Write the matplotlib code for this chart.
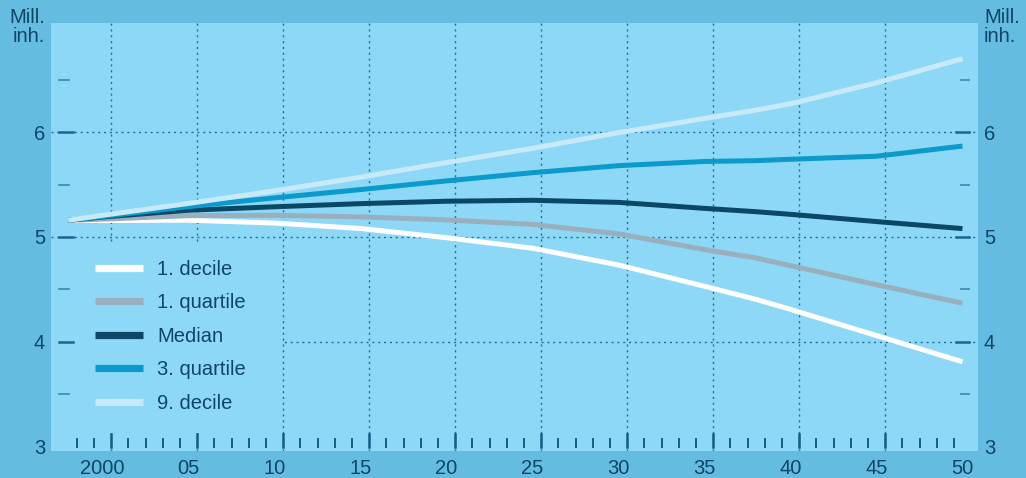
import matplotlib
matplotlib.use("Agg")
from matplotlib import pyplot as plt
from matplotlib.lines import Line2D
from matplotlib.patches import Rectangle
import matplotlib.transforms as mtransforms

# data (millions of inhabitants)
years = [1998, 2000, 2005, 2010, 2015, 2020, 2025, 2030, 2035, 2038, 2040, 2045, 2050]
decile_1 = [5.16, 5.157, 5.16, 5.133, 5.081, 4.993, 4.893, 4.733, 4.53, 4.405, 4.31, 4.06, 3.81]
quartile_1 = [5.16, 5.17, 5.203, 5.207, 5.192, 5.163, 5.12, 5.03, 4.88, 4.80, 4.727, 4.545, 4.368]
median = [5.16, 5.19, 5.255, 5.288, 5.318, 5.341, 5.35, 5.33, 5.273, 5.241, 5.216, 5.147, 5.08]
quartile_3 = [5.16, 5.195, 5.29, 5.373, 5.452, 5.535, 5.613, 5.68, 5.72, 5.728, 5.741, 5.77, 5.867]
decile_9 = [5.16, 5.207, 5.32, 5.44, 5.57, 5.71, 5.845, 5.995, 6.13, 6.21, 6.27, 6.47, 6.70]

series_names = ["1. decile", "1. quartile", "Median", "3. quartile", "9. decile"]
x_labels = ["2000", "05", "10", "15", "20", "25", "30", "35", "40", "45", "50"]
label_years = [2000, 2005, 2010, 2015, 2020, 2025, 2030, 2035, 2040, 2045, 2050]
y_labels = [3, 4, 5, 6]
y_major = [4, 5, 6]
y_minor = [3.5, 4.5, 5.5, 6.5]

outer_bg = "#64BDE0"
inner_bg = "#8DD8F6"
text_col = "#0E4566"
grid_col = "#1B6F98"
colors = ["#FFFFFF", "#9AAFBE", "#0B4866", "#0A9ACB", "#C8EAF8"]
fs = 14.5

plt.rcParams["font.family"] = ["Liberation Sans", "DejaVu Sans"]

fig = plt.figure(figsize=(10.26, 4.78), dpi=100, facecolor=outer_bg)
ax = fig.add_axes([51 / 1026, 27 / 478, 927 / 1026, 428 / 478])
ax.set_facecolor(inner_bg)
for s in ax.spines.values():
    s.set_visible(False)

ax.set_xlim(1996.5, 2050.4)
ax.set_ylim(2.96, 7.04)

# dotted grid
dots = (0, (1.5, 2.7))
for yv in [4, 5, 6]:
    ax.axhline(yv, color=grid_col, lw=1.0, ls=dots, zorder=1)
for xv in range(2000, 2050, 5):
    ax.axvline(xv, color=grid_col, lw=1.0, ls=dots, zorder=1)

# legend background patch covers the grid in the lower left
ax.add_patch(Rectangle((0, 0.042), 0.249, 0.44, transform=ax.transAxes,
                       facecolor=inner_bg, edgecolor="none", zorder=1.2))

# lines (data years are plotted at the middle of each year interval)
xs = [y - 0.5 for y in years]
all_series = [decile_1, quartile_1, median, quartile_3, decile_9]
for vals, c in zip(all_series, colors):
    ax.plot(xs, vals, color=c, lw=3.6, solid_capstyle="butt", zorder=3)

# x tick marks at year boundaries
xtr = mtransforms.blended_transform_factory(ax.transData, ax.transAxes)
for yr in range(1998, 2050):
    if yr % 5 == 0:
        ax.plot([yr, yr], [0.0093, 0.0397], color="#125E85", lw=1.8, transform=xtr, zorder=4)
    else:
        ax.plot([yr, yr], [0.0093, 0.028], color="#125E85", lw=1.4, transform=xtr, zorder=4)

# y tick marks, both sides
ytr = ax.get_yaxis_transform()
for yv in y_major:
    ax.plot([0.0086, 0.0237], [yv, yv], color="#1A6690", lw=1.8, transform=ytr, zorder=4)
    ax.plot([0.976, 0.990], [yv, yv], color="#1A6690", lw=1.8, transform=ytr, zorder=4)
for yv in y_minor:
    ax.plot([0.0086, 0.0194], [yv, yv], color="#3A90BA", lw=1.3, transform=ytr, zorder=4)
    ax.plot([0.982, 0.990], [yv, yv], color="#3A90BA", lw=1.3, transform=ytr, zorder=4)

ax.set_xticks([y - 0.5 for y in label_years])
ax.set_xticklabels(x_labels)
ax.set_yticks(y_labels)
ax.set_yticklabels([str(v) for v in y_labels])
ax.tick_params(axis="x", length=0, pad=6, labelsize=fs, labelcolor=text_col)
ax.tick_params(axis="y", length=0, pad=4.3, labelsize=fs, labelcolor=text_col,
               labelleft=True, labelright=True)

fig.text(45 / 1026, 1 - 8 / 478, "Mill.\ninh.", ha="right", va="top",
         fontsize=fs, color=text_col, linespacing=1.0)
fig.text(984 / 1026, 1 - 8 / 478, "Mill.\ninh.", ha="left", va="top",
         fontsize=fs, color=text_col, linespacing=1.0)

handles = [Line2D([0], [0], color=c, lw=5.2, solid_capstyle="butt") for c in colors]
leg = ax.legend(handles, series_names, loc="upper left", bbox_to_anchor=(0.0475, 0.447),
                frameon=False, fontsize=fs, handlelength=2.4, handletextpad=0.7,
                labelspacing=0.72, borderpad=0, borderaxespad=0)
for t in leg.get_texts():
    t.set_color(text_col)
leg.set_zorder(5)

plt.savefig("out.png", dpi=100, facecolor=outer_bg)
plt.close(fig)
